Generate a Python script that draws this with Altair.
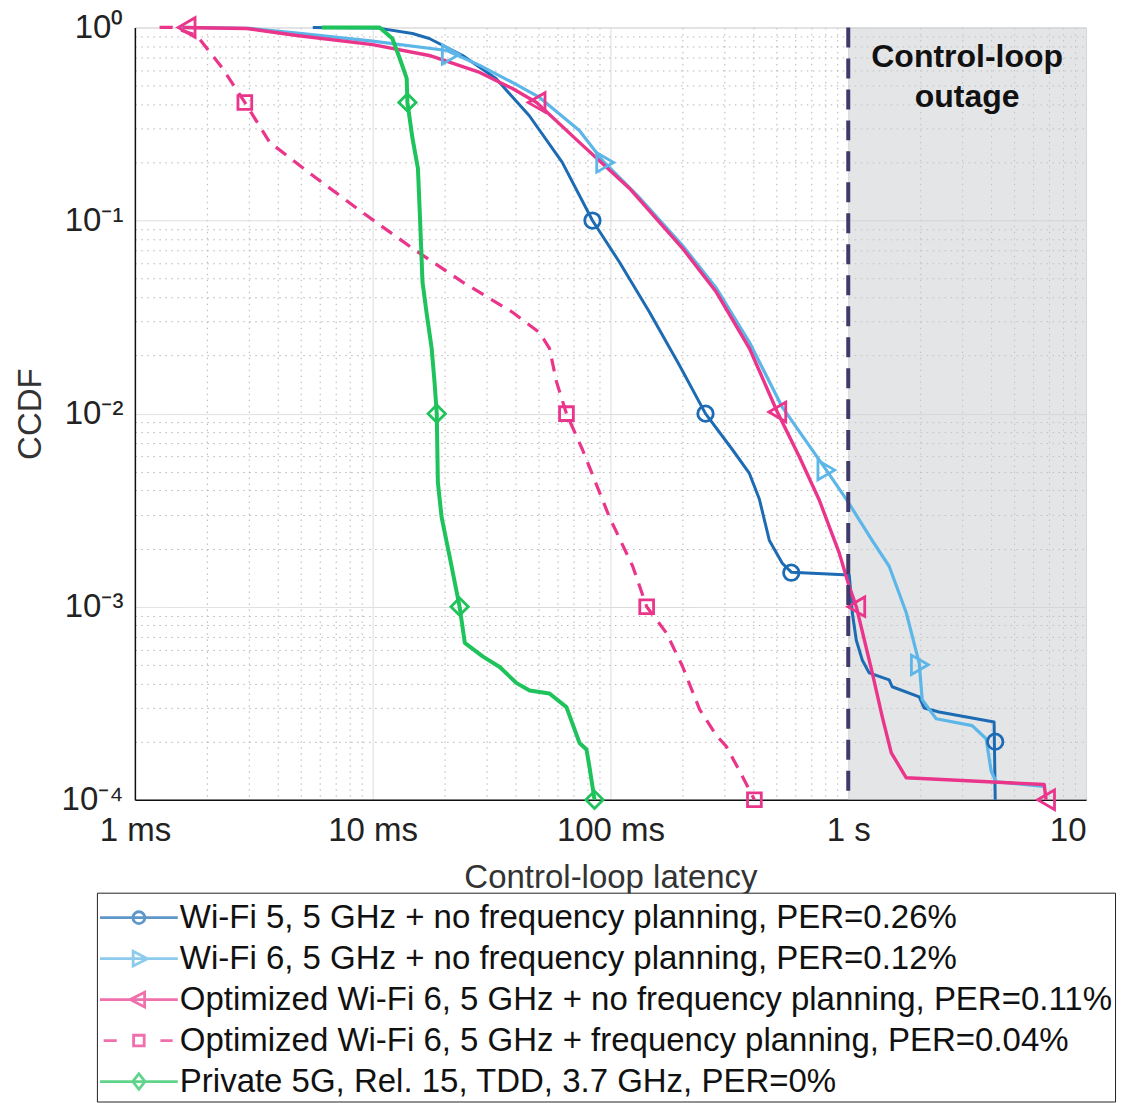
import altair as alt
import pandas as pd

# ---------------- data ----------------
series_names = [
    "Wi-Fi 5, 5 GHz + no frequency planning, PER=0.26%",
    "Wi-Fi 6, 5 GHz + no frequency planning, PER=0.12%",
    "Optimized Wi-Fi 6, 5 GHz + no frequency planning, PER=0.11%",
    "Optimized Wi-Fi 6, 5 GHz + frequency planning, PER=0.04%",
    "Private 5G, Rel. 15, TDD, 3.7 GHz, PER=0%",
]

# latency in ms, CCDF
wifi5_t = [5.6, 10.4, 14.7, 17.3, 23.9, 33, 45.5, 62.7, 84, 109, 146, 195, 251, 326, 384, 423,
           466, 528, 576, 1010, 1040, 1081, 1145, 1224, 1486, 1530, 1988, 2085, 2410, 4105, 4150]
wifi5_c = [1.0, 0.995, 0.93, 0.877, 0.716, 0.544, 0.35, 0.2, 0.1, 0.061, 0.0335, 0.0178, 0.01,
           0.0065, 0.0049, 0.0036, 0.0022, 0.00168, 0.00151, 0.00146, 0.00093, 0.00067, 0.00053,
           0.000454, 0.000418, 0.000385, 0.000341, 0.000299, 0.000285, 0.000253, 0.0001]

wifi6_t = [1.55, 3.04, 4.94, 10, 20.5, 28.2, 38.7, 50.3, 74, 92.5, 132, 201, 279, 384, 528, 622,
           809, 982, 1262, 1486, 1754, 1988, 2046, 2343, 3319, 3800, 3990, 4185, 6790]
wifi6_c = [1.0, 0.99, 0.931, 0.85, 0.76, 0.636, 0.519, 0.434, 0.293, 0.205, 0.132, 0.0742, 0.0446,
           0.0234, 0.0108, 0.0081, 0.0051, 0.0036, 0.0022, 0.00162, 0.00093, 0.00051, 0.00033,
           0.000263, 0.000242, 0.000207, 0.000141, 0.000124, 0.000117]

opt_t = [1.59, 2.95, 4.8, 10, 17.3, 28.2, 38.7, 48.9, 74, 120, 201, 279, 384, 503, 622, 755, 916,
         1010, 1081, 1262, 1390, 1517, 1754, 6665, 6790]
opt_c = [1.0, 0.988, 0.909, 0.815, 0.716, 0.585, 0.483, 0.409, 0.254, 0.147, 0.0718, 0.0425, 0.0218,
         0.0102, 0.006, 0.00357, 0.0019, 0.00127, 0.001, 0.000454, 0.000269, 0.000175, 0.00013,
         0.00012, 0.0001]

optfp_t = [1.27, 1.44, 1.82, 2.34, 2.9, 3.69, 5.6, 9.08, 14.7, 23.9, 38.7, 50.3, 55.4, 59.3, 65.3,
           76.3, 99, 124, 142, 172, 201, 237, 279, 307, 359, 403]
optfp_c = [1.0, 1.0, 0.909, 0.613, 0.409, 0.254, 0.171, 0.11, 0.0718, 0.048, 0.0335, 0.0263, 0.0218,
           0.0146, 0.01, 0.0065, 0.00291, 0.00162, 0.001, 0.00073, 0.00049, 0.000294, 0.000215,
           0.000189, 0.000132, 0.0001]

g5_t = [6.1, 10.7, 12.1, 13, 13.9, 14, 14.7, 15.5, 15.8, 16.2, 16.9, 17.7, 18.2, 18.6, 18.8, 19.5,
        21.1, 23.2, 24.4, 29, 34.2, 40.3, 45.7, 55.4, 65.3, 74.1, 79.3, 81.6, 85.7]
g5_c = [1.0, 1.0, 0.877, 0.691, 0.545, 0.409, 0.267, 0.186, 0.106, 0.048, 0.0324, 0.0218, 0.0146,
        0.01, 0.0044, 0.0029, 0.0018, 0.001, 0.00065, 0.000553, 0.000487, 0.000402, 0.000368,
        0.000355, 0.000302, 0.000197, 0.000182, 0.000148, 0.0001]

# marker positions
wifi5_mt = [84, 251, 576, 4150]
wifi5_mc = [0.1, 0.01, 0.0015, 0.0002]
wifi6_mt = [21.3, 95, 809, 2000]
wifi6_mc = [0.725, 0.2, 0.0051, 0.0005]
opt_mt = [1.65, 48.9, 503, 1081, 6790]
opt_mc = [1.0, 0.409, 0.0102, 0.001, 0.0001]
optfp_mt = [2.9, 65.3, 142, 403]
optfp_mc = [0.409, 0.01, 0.001, 0.0001]
g5_mt = [14, 18.6, 23.2, 85.7]
g5_mc = [0.409, 0.01, 0.001, 0.0001]

# outage region and threshold
outage_start = [1000]
outage_end = [10000]
ccdf_low = [0.0001]
ccdf_high = [1.0]
threshold = [1000]
annot_text = ["Control-loop", "outage"]
annot_t = [3162, 3162]
annot_c = [0.70, 0.434]

x_major = [1, 10, 100, 1000, 10000]
x_major_labels = ["1 ms", "10 ms", "100 ms", "1 s", "10"]
y_major = [0.0001, 0.001, 0.01, 0.1, 1]
y_major_labels = ["10\u207b\u2074", "10\u207b\u00b3", "10\u207b\u00b2", "10\u207b\u00b9", "10\u2070"]

# ---------------- styles ----------------
colors = ["#1c6bb3", "#5cb6e7", "#ea358b", "#ea358b", "#1fc35b"]
dashes = [None, None, None, [13, 9], None]
widths = [3.0, 3.2, 3.4, 3.2, 4.0]
marker_shapes = ["circle", "triangle-right", "triangle-left", "square", "diamond"]
marker_sizes = [240, 380, 380, 190, 300]
legend_paths = [
    "M-1.9,0H1.9M0.29,0A0.29,0.29,0,1,1,-0.29,0A0.29,0.29,0,1,1,0.29,0Z",
    "M-1.9,0H1.9M-0.28,-0.36L0.42,0L-0.28,0.36Z",
    "M-1.9,0H1.9M0.28,-0.36L-0.42,0L0.28,0.36Z",
    "M-1.72,0H-1.08M-0.26,-0.26H0.26V0.26H-0.26ZM1.05,0H1.65",
    "M-1.9,0H1.9M0,-0.38L0.3,0L0,0.38L-0.3,0Z",
]
FONT = "Liberation Sans"
FS = 33

# ---------------- tables ----------------
series_t = [wifi5_t, wifi6_t, opt_t, optfp_t, g5_t]
series_c = [wifi5_c, wifi6_c, opt_c, optfp_c, g5_c]
marks_t = [wifi5_mt, wifi6_mt, opt_mt, optfp_mt, g5_mt]
marks_c = [wifi5_mc, wifi6_mc, opt_mc, optfp_mc, g5_mc]

x_vals = [m * d for d in [1, 10, 100, 1000] for m in range(1, 10)] + [10000]
y_vals = [m * d for d in [0.0001, 0.001, 0.01, 0.1] for m in range(1, 10)] + [1]
y_vals = [float(f"{v:.6g}") for v in y_vals]


def label_expr(vals, labels):
    e = "''"
    for v, l in zip(reversed(vals), reversed(labels)):
        e = f"datum.value == {v} ? '{l}' : ({e})"
    return e


x_major_test = "indexof([" + ",".join(str(v) for v in x_major) + "], datum.value) >= 0"
y_major_test = "indexof([" + ",".join(str(v) for v in y_major) + "], datum.value) >= 0"

xscale = alt.Scale(type="log", domain=[1, 10000], nice=False)
yscale = alt.Scale(type="log", domain=[0.0001, 1], nice=False)

xaxis = alt.Axis(
    values=x_vals, labelExpr=label_expr(x_major, x_major_labels), labelOverlap=False,
    labelFlush=False, ticks=False, labelFontSize=FS, labelFont=FONT, labelColor="#222",
    labelPadding=15, labelBound=False,
    labelAlign={"condition": {"test": "datum.value == 10000", "value": "right"}, "value": "center"},
    gridDash={"condition": {"test": x_major_test, "value": [1, 0]}, "value": [1.5, 4.5]},
    gridColor={"condition": {"test": x_major_test, "value": "#d9d9d9"}, "value": "#b5b5b5"},
    gridWidth=1, domainColor="#111", domainWidth=1.5,
    titleFontSize=FS, titleFont=FONT, titleFontWeight="normal", titleColor="#333", titlePadding=14,
)
yaxis = alt.Axis(
    values=y_vals, labelExpr=label_expr(y_major, y_major_labels), labelOverlap=False,
    labelFlush=False, ticks=False, labelFontSize=FS, labelFont=FONT, labelColor="#222",
    labelPadding=12, labelBound=False,
    gridDash={"condition": {"test": y_major_test, "value": [1, 0]}, "value": [1.5, 4.5]},
    gridColor={"condition": {"test": y_major_test, "value": "#d9d9d9"}, "value": "#b5b5b5"},
    gridWidth=1, domainColor="#111", domainWidth=1.5,
    titleFontSize=FS, titleFont=FONT, titleFontWeight="normal", titleColor="#333", titlePadding=14,
)
XT = "Control-loop latency"
YT = "CCDF"


def X(field="t"):
    return alt.X(f"{field}:Q", scale=xscale, axis=xaxis, title=XT)


def Y(field="c"):
    return alt.Y(f"{field}:Q", scale=yscale, axis=yaxis, title=YT)


band_df = pd.DataFrame({"t": outage_start, "t2": outage_end, "c": ccdf_low, "c2": ccdf_high})
band = alt.Chart(band_df).mark_rect(color="#c9cbcf", opacity=0.5).encode(
    x=X(), x2="t2:Q", y=Y(), y2="c2:Q")

line_layers = []
for name, ts, cs, dsh, w, col in zip(series_names, series_t, series_c, dashes, widths, colors):
    d = pd.DataFrame({"t": ts, "c": cs, "idx": list(range(len(ts)))})
    kw = dict(strokeWidth=w, strokeJoin="round", strokeCap="butt", color=col)
    if dsh is not None:
        kw["strokeDash"] = dsh
    line_layers.append(
        alt.Chart(d).mark_line(**kw).encode(x=X(), y=Y(), order="idx:Q")
    )

point_layers = []
for ts, cs, shp, sz, col in zip(marks_t, marks_c, marker_shapes, marker_sizes, colors):
    d = pd.DataFrame({"t": ts, "c": cs})
    point_layers.append(
        alt.Chart(d).mark_point(shape=shp, filled=False, size=sz, strokeWidth=2.8,
                                opacity=1, color=col).encode(x=X(), y=Y())
    )

vline = alt.Chart(pd.DataFrame({"t": threshold})).mark_rule(
    color="#3e3a6c", strokeWidth=4, strokeDash=[20, 11]).encode(x=X())

annot = alt.Chart(pd.DataFrame({"t": annot_t, "c": annot_c, "txt": annot_text})).mark_text(
    font=FONT, fontSize=32, fontWeight="bold", color="#111", align="center", baseline="middle").encode(
    x=X(), y=Y(), text="txt:N")

# legend-only layer (no rows drawn); legend entries come from the explicit scale domain
leg_df = pd.DataFrame({"series": series_names,
                       "t": [m[0] for m in marks_t], "c": [m[0] for m in marks_c]})
leg = alt.Legend(
    title=None, orient="none", legendX=-38, legendY=866, strokeColor="#222", fillColor="white",
    padding=3, rowPadding=2, symbolSize=1681, symbolStrokeWidth=2.8, symbolOffset=17,
    labelOffset=19, labelFontSize=FS, labelFont=FONT, labelColor="#111", labelLimit=1500,
)
legend_layer = alt.Chart(leg_df).transform_filter("false").mark_point(filled=False, size=1681).encode(
    x=X(), y=Y(),
    stroke=alt.Stroke("series:N", scale=alt.Scale(domain=series_names, range=colors), legend=leg),
    shape=alt.Shape("series:N", scale=alt.Scale(domain=series_names, range=legend_paths), legend=leg),
)

chart = alt.layer(band, *line_layers, *point_layers, vline, annot, legend_layer).properties(
    width=952, height=773,
    padding={"left": 127, "top": 19, "right": 50, "bottom": 303},
    autosize=alt.AutoSizeParams(type="none"),
).configure_view(stroke=None).configure(font=FONT)

chart.save("out.html", embed_options={"renderer": "svg", "actions": False})
